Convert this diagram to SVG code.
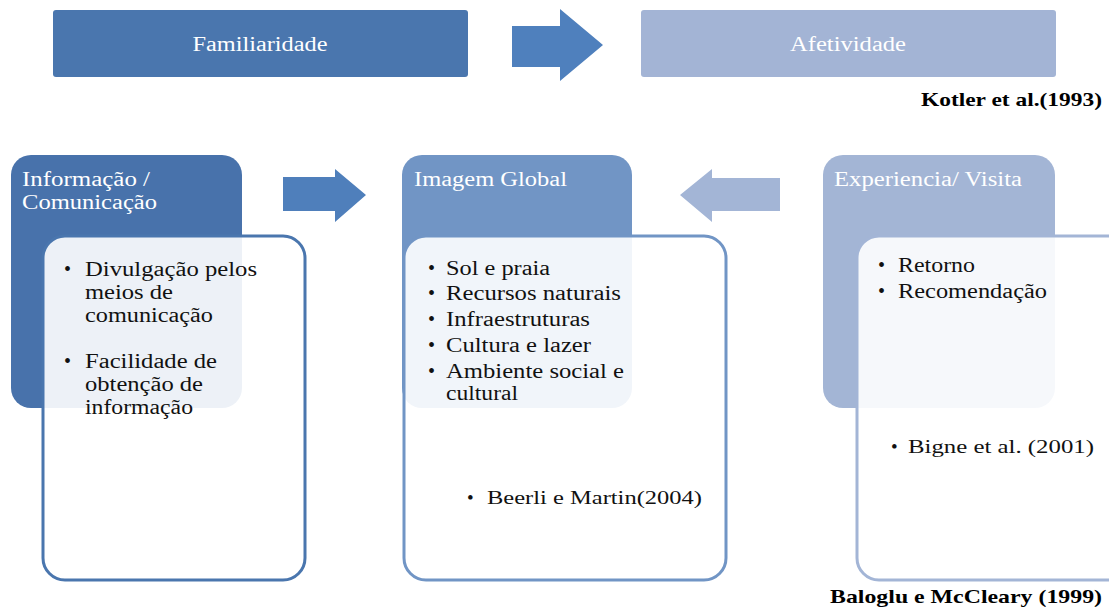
<svg xmlns="http://www.w3.org/2000/svg" width="1109" height="608" viewBox="0 0 1109 608">
  <style>
    text { font-family: "Liberation Serif", "Times New Roman", serif; }
    .top { font-size: 20px; fill: #ffffff; text-anchor: middle; }
    .head { font-size: 20px; fill: #ffffff; }
    .item { font-size: 20px; fill: #111111; }
    .ref { font-size: 19px; fill: #111111; }
    .cite { font-size: 19px; font-weight: bold; fill: #000000; }
    .panel { fill: #ffffff; fill-opacity: 0.9; stroke-width: 3; }
  </style>

  <!-- top row -->
  <g id="familiaridade">
    <rect x="53" y="10" width="415" height="67" rx="3" fill="#4a76ae"/>
    <text class="top" x="260" y="51" textLength="135" lengthAdjust="spacingAndGlyphs">Familiaridade</text>
  </g>
  <g id="afetividade">
    <rect x="641" y="10" width="415" height="67" rx="3" fill="#a3b4d5"/>
    <text class="top" x="848" y="51" textLength="116" lengthAdjust="spacingAndGlyphs">Afetividade</text>
  </g>
  <g id="kotler">
    <text class="cite" x="921" y="106" textLength="181" lengthAdjust="spacingAndGlyphs">Kotler et al.(1993)</text>
  </g>

  <!-- left column -->
  <g id="informacao">
    <rect x="11" y="155" width="231" height="253" rx="20" fill="#4872ab"/>
    <text class="head" x="22" y="186" textLength="128" lengthAdjust="spacingAndGlyphs">Informação /</text>
    <text class="head" x="22" y="209" textLength="135" lengthAdjust="spacingAndGlyphs">Comunicação</text>
    <rect class="panel" x="43" y="236" width="262" height="344" rx="22" stroke="#4a76ae"/>
    <text class="item" x="64" y="276">•</text>
    <text class="item" x="85" y="276" textLength="172" lengthAdjust="spacingAndGlyphs">Divulgação pelos</text>
    <text class="item" x="85" y="299" textLength="88" lengthAdjust="spacingAndGlyphs">meios de</text>
    <text class="item" x="85" y="322" textLength="128" lengthAdjust="spacingAndGlyphs">comunicação</text>
    <text class="item" x="64" y="368">•</text>
    <text class="item" x="85" y="368" textLength="132" lengthAdjust="spacingAndGlyphs">Facilidade de</text>
    <text class="item" x="85" y="391" textLength="118" lengthAdjust="spacingAndGlyphs">obtenção de</text>
    <text class="item" x="85" y="414" textLength="108" lengthAdjust="spacingAndGlyphs">informação</text>
  </g>

  <!-- middle column -->
  <g id="imagem-global">
    <rect x="402" y="155" width="230" height="253" rx="20" fill="#7195c5"/>
    <text class="head" x="414" y="186" textLength="153" lengthAdjust="spacingAndGlyphs">Imagem Global</text>
    <rect class="panel" x="404" y="236" width="322" height="344" rx="22" stroke="#7195c5"/>
    <text class="item" x="428" y="275">•</text>
    <text class="item" x="446" y="275" textLength="104" lengthAdjust="spacingAndGlyphs">Sol e praia</text>
    <text class="item" x="428" y="300">•</text>
    <text class="item" x="446" y="300" textLength="175" lengthAdjust="spacingAndGlyphs">Recursos naturais</text>
    <text class="item" x="428" y="326">•</text>
    <text class="item" x="446" y="326" textLength="144" lengthAdjust="spacingAndGlyphs">Infraestruturas</text>
    <text class="item" x="428" y="352">•</text>
    <text class="item" x="446" y="352" textLength="145" lengthAdjust="spacingAndGlyphs">Cultura e lazer</text>
    <text class="item" x="428" y="378">•</text>
    <text class="item" x="446" y="378" textLength="178" lengthAdjust="spacingAndGlyphs">Ambiente social e</text>
    <text class="item" x="446" y="400" textLength="72" lengthAdjust="spacingAndGlyphs">cultural</text>
    <text class="ref" x="467" y="504">•</text>
    <text class="ref" x="487" y="504" textLength="215" lengthAdjust="spacingAndGlyphs">Beerli e Martin(2004)</text>
  </g>

  <!-- right column -->
  <g id="experiencia">
    <rect x="823" y="155" width="232" height="253" rx="20" fill="#a3b5d5"/>
    <text class="head" x="834" y="186" textLength="188" lengthAdjust="spacingAndGlyphs">Experiencia/ Visita</text>
    <rect class="panel" x="857" y="236" width="282" height="344" rx="22" stroke="#a3b5d6"/>
    <text class="item" x="878" y="272">•</text>
    <text class="item" x="898" y="272" textLength="77" lengthAdjust="spacingAndGlyphs">Retorno</text>
    <text class="item" x="878" y="298">•</text>
    <text class="item" x="898" y="298" textLength="149" lengthAdjust="spacingAndGlyphs">Recomendação</text>
    <text class="ref" x="891" y="453">•</text>
    <text class="ref" x="908" y="453" textLength="186" lengthAdjust="spacingAndGlyphs">Bigne et al. (2001)</text>
  </g>
  <g id="baloglu">
    <text class="cite" x="830" y="603" textLength="272" lengthAdjust="spacingAndGlyphs">Baloglu e McCleary (1999)</text>
  </g>

  <!-- block arrows between stages -->
  <g id="connectors">
    <polygon points="512,26 560,26 560,9 603,45 560,81 560,67 512,67" fill="#4f80bd"/>
    <polygon points="283,177 335,177 335,169 366,195 335,222 335,211 283,211" fill="#4f7fbb"/>
    <polygon points="780,178 712,178 712,169 680,195 712,222 712,211 780,211" fill="#a3b5d6"/>
  </g>
</svg>
